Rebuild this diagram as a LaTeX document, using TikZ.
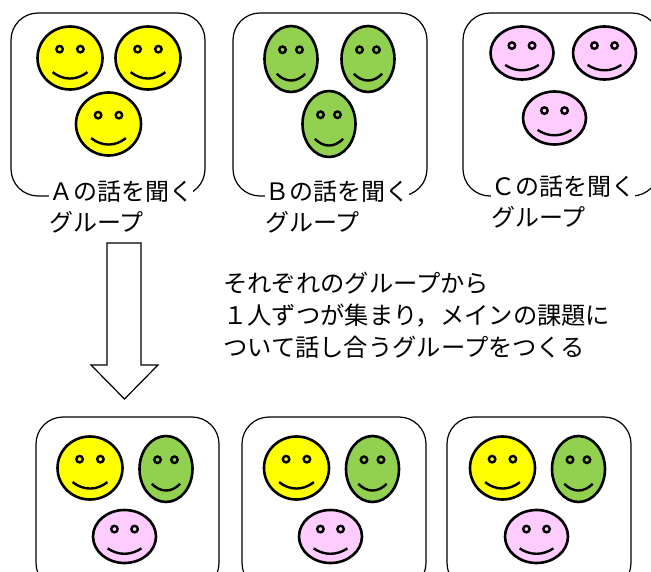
\documentclass[tikz,border=0pt]{standalone}
\usepackage{fontspec}
\setmainfont{Noto Sans CJK JP}
\usetikzlibrary{shapes.geometric}
\definecolor{faceyellow}{HTML}{FFFF00}
\definecolor{facegreen}{HTML}{92D050}
\definecolor{facepink}{HTML}{FFCCFF}
\tikzstyle{groupbox}=[draw, rectangle, rounded corners=27pt, line width=1.2pt,
                      inner sep=0pt, outer sep=0pt]
\tikzstyle{face}=[draw, ellipse, line width=2.6pt,
                  inner sep=0pt, outer sep=0pt]
\tikzstyle{eye}=[draw, circle, line width=2.4pt, minimum size=6.5pt,
                 inner sep=0pt, outer sep=0pt]
\tikzstyle{caption}=[fill=white, anchor=west, align=left, inner sep=0pt,
                     font=\fontsize{24}{31}\selectfont]
\newcommand{\smiley}[6]{
  \node (#1) at (#2,#3) [face, fill=#6, minimum width=#4pt*2, minimum height=#5pt*2]{};
  \begin{scope}[shift={(#1.center)}, x=#4pt, y=-#5pt]
    \node (#1l) at (-.32,-.28) [eye, fill=#6]{};
    \node (#1r) at (.32,-.28)  [eye, fill=#6]{};
    \draw [line width=2.4pt] (-.535,.45) .. controls (-.2,.72) and (.2,.72) .. (.535,.45);
  \end{scope}
}
\begin{document}
\begin{tikzpicture}[x=1pt, y=-1pt]
     \useasboundingbox (0,0) rectangle (651,572);
     \clip (0,0) rectangle (651,572);

     % upper groups
     \node (boxa) at (108,104.5) [groupbox, minimum width=194pt, minimum height=183pt]{};
     \node (boxb) at (330,104.5) [groupbox, minimum width=194pt, minimum height=183pt]{};
     \node (boxc) at (561,104.5) [groupbox, minimum width=196pt, minimum height=183pt]{};

     \foreach \n/\x/\y in {fa/70/58,fb/148/58,fc/108.5/124}
       \smiley{\n}{\x}{\y}{32.5}{31.5}{faceyellow};
     \foreach \n/\x/\y in {fd/291/59,fe/368/59,ff/329/124}
       \smiley{\n}{\x}{\y}{26.5}{33}{facegreen};
     \foreach \n/\x/\y in {fg/522/53,fh/604.5/53,fi/554.5/118}
       \smiley{\n}{\x}{\y}{31.5}{26.5}{facepink};

     \node (capa) at (49,207)  [caption]{\symbol{"FF21}の話を聞く\\グループ};
     \node (capb) at (265,207) [caption]{\symbol{"FF22}の話を聞く\\グループ};
     \node (capc) at (491,202) [caption]{\symbol{"FF23}の話を聞く\\グループ};

     % arrow down
     \draw [line width=1.2pt, fill=white] (107,243) -- (141,243) -- (141,365) -- (158,365)
        -- (124.5,399) -- (91,365) -- (107,365) -- cycle;

     \node (note) at (223,315) [caption, font=\fontsize{24.3}{32}\selectfont]
        {それぞれのグループから\\\symbol{"FF11}人ずつが集まり\symbol{"FF0C}メインの課題に\\ついて話し合うグループをつくる};

     % lower groups
     \node (boxd) at (127.5,503.5) [groupbox, minimum width=183pt, minimum height=173pt]{};
     \node (boxe) at (334,503.5)   [groupbox, minimum width=184pt, minimum height=173pt]{};
     \node (boxf) at (539,503.5)   [groupbox, minimum width=184pt, minimum height=173pt]{};

     \foreach \n/\x/\y in {ga/90/468,gb/296.5/468,gc/502.5/468}
       \smiley{\n}{\x}{\y}{32.5}{31.5}{faceyellow};
     \foreach \n/\x/\y in {gd/166/469,ge/372.5/469,gf/578.5/469}
       \smiley{\n}{\x}{\y}{26.5}{33}{facegreen};
     \foreach \n/\x/\y in {gg/124.5/536.5,gh/330.5/536.5,gi/536.5/536.5}
       \smiley{\n}{\x}{\y}{31.5}{26.5}{facepink};
\end{tikzpicture}
\end{document}
